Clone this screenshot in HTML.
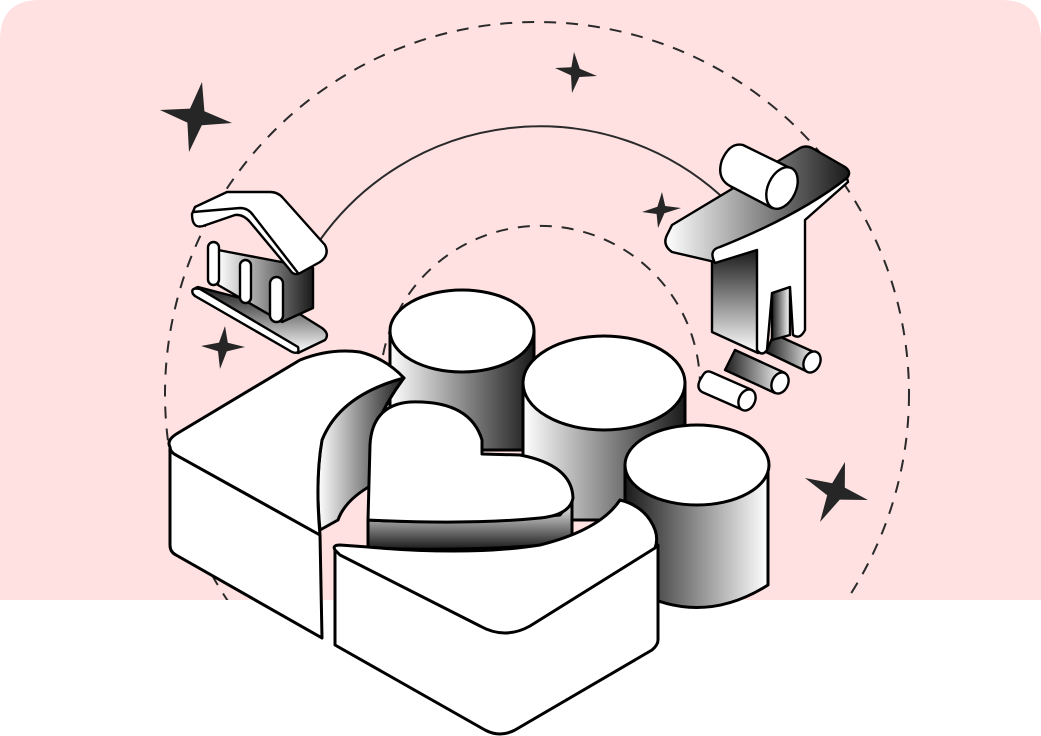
<!DOCTYPE html>
<html><head><meta charset="utf-8"><style>html,body{margin:0;padding:0;background:#fff}svg{display:block}</style></head>
<body>
<svg width="1041" height="736" viewBox="0 0 1041 736" xmlns="http://www.w3.org/2000/svg">
<defs>
<linearGradient id="wd" x1="0" x2="1" y1="0" y2="0"><stop offset="0" stop-color="#fff"/><stop offset="1" stop-color="#1a1a1a"/></linearGradient>
<linearGradient id="dw" x1="0" x2="1" y1="0" y2="0"><stop offset="0" stop-color="#1a1a1a"/><stop offset="1" stop-color="#fff"/></linearGradient>
<linearGradient id="vd" x1="0" x2="0" y1="0" y2="1"><stop offset="0" stop-color="#1a1a1a"/><stop offset="1" stop-color="#fff"/></linearGradient>
<linearGradient id="vw" x1="0" x2="0" y1="0" y2="1"><stop offset="0" stop-color="#fff"/><stop offset="1" stop-color="#1a1a1a"/></linearGradient>
<clipPath id="top"><rect x="0" y="0" width="1041" height="600"/></clipPath>
</defs>
<path d="M0,40 Q0,0 40,0 L1001,0 Q1041,0 1041,40 L1041,600 L0,600 Z" fill="#FFE1E1"/>
<g fill="none" stroke="#2a2a2a" stroke-width="2">
<circle cx="537" cy="394" r="372" stroke-dasharray="12 10" clip-path="url(#top)"/>
<path d="M383,355 A160,160 0 0 1 700,385" stroke-dasharray="12 10"/>
<path d="M320,240 A270,270 0 0 1 720,195"/>
</g>
<g fill="#262626">
<path d="M202,82 L204.4,111.2 L232,123 L201.8,125.2 L189,152 L187.4,122.6 L160,110 L190,108.6Z"/>
<path d="M574,52 L579.8,68.8 L597,76 L579.4,77 L572,93 L571,75.4 L555,68 L571.4,67.2Z"/>
<path d="M662,192 L665.2,206 L681,208 L664.4,213.2 L658,228 L656.6,214 L642,212 L657.4,206.8Z"/>
<path d="M225,326 L227.8,342.8 L245,347 L226.8,351.4 L220,369 L218,351.2 L201,346 L219,342.6Z"/>
<path d="M845,462 L844.8,487.6 L868,500 L839.8,499.6 L820,522 L827.2,495.2 L805,478 L832.2,483.2Z"/>
</g>
<g stroke="#000" stroke-width="2.4" stroke-linejoin="round">
<!-- building base -->
<path d="M198,287 L298,313 L322,328 Q330,334 325,340 L298,353 L195,296 Q189,290 198,287Z" fill="url(#vd)"/>
<path d="M195,296 L292,352 Q300,355 298,347 L200,289 Q190,287 193,294Z" fill="#fff"/>
<path d="M218,250 L313,268 L313,308 L282,322 L218,285Z" fill="url(#wd)"/>
<rect x="208" y="242" width="11" height="43" rx="5.5" fill="#fff"/>
<rect x="240" y="260" width="11" height="43" rx="5.5" fill="#fff"/>
<rect x="270" y="277" width="13" height="45" rx="6.5" fill="#fff"/>
<!-- roof -->
<path d="M195,207 L227,192 L270,192 Q278,192 283,198 L325,245 Q330,255 320,262 L302,272 Q294,277 290,270 L250,222 Q243,214 235,215 L203,226 Q192,229 192,214 Z" fill="#fff"/>
<path d="M193,212 L240,208 Q248,208 253,215 L298,273" fill="none"/>
<!-- person feet -->
<path d="M774,334 L816,353 L808,372 L766,352Z" fill="url(#dw)"/>
<ellipse cx="812" cy="362" rx="8" ry="11" transform="rotate(25 812 362)" fill="#fff"/>
<path d="M735,350 L785,373 L775,393 L725,370Z" fill="url(#dw)"/>
<ellipse cx="780" cy="383" rx="8" ry="11" transform="rotate(25 780 383)" fill="#fff"/>
<path d="M711,372 L752,390 L743,410 L702,392Q696,388 700,380 L703,375 Q706,370 711,372Z" fill="#fff"/>
<ellipse cx="747" cy="400" rx="8" ry="11" transform="rotate(25 747 400)" fill="#fff"/>
<!-- person -->
<path d="M712,258 L712,332 L758,353 L757,250Z" fill="url(#vd)"/>
<path d="M772,293 L790,287 L790,335 L772,340Z" fill="url(#dw)"/>
<path d="M672,225 L800,148 Q806,145 812,148 L845,167 Q852,172 847,178 Q800,215 720,247 Q712,252 715,262 L672,252 Q662,245 667,235 Z" fill="url(#wd)"/>
<path d="M715,263 Q708,250 720,247 Q800,215 847,178 L848,182 L805,220 L805,330 Q800,340 793,335 L790,287 L772,293 L767,350 Q762,357 757,350 L757,250 Z" fill="#fff"/>
<path d="M743,145 L790,168 L772,208 L730,186 Q716,178 722,160 Q730,142 743,145Z" fill="#fff"/>
<ellipse cx="782" cy="188" rx="14" ry="22" transform="rotate(25 782 188)" fill="#fff"/>
</g>
<g stroke="#000" stroke-width="3" stroke-linejoin="round">
<!-- cylinder 1 -->
<path d="M390,331 L390,450 L534,450 L534,331Z" fill="url(#wd)"/>
<ellipse cx="462" cy="331" rx="72" ry="41" fill="#fff"/>
<!-- cylinder 2 -->
<path d="M523,383 L523,520 L685,520 L685,383Z" fill="url(#wd)"/>
<ellipse cx="604" cy="383" rx="81" ry="47" fill="#fff"/>
<!-- cylinder 3 -->
<path d="M625,465 L625,585 Q697,630 768,585 L768,465Z" fill="url(#dw)"/>
<ellipse cx="697" cy="465" rx="72" ry="40" fill="#fff"/>
<!-- left piece -->
<path d="M404,378 Q340,395 322,440 Q315,480 320,530 L338,520 Q345,500 372,485 L372,440 Q380,410 404,378Z" fill="url(#wd)"/>
<path d="M170,447 L170,545 Q170,552 176,555 L322,638 L320,535 L176,455Z" fill="#fff"/>
<path d="M170,447 Q166,440 178,433 L300,360 Q330,348 360,352 Q385,358 404,378 Q340,395 322,440 Q315,480 320,535 L176,455 Q170,452 170,447Z" fill="#fff"/>
<!-- heart -->
<path d="M368,520 L368,548 Q470,552 572,543 L572,500 L560,515 Q470,525 368,520Z" fill="url(#vw)"/>
<path d="M368,520 L370,445 Q372,405 410,402 Q470,400 482,440 L482,454 L520,455 Q572,465 573,498 Q570,515 540,518 Q470,525 368,520Z" fill="#fff"/>
<!-- bottom piece -->
<path d="M335,550 L335,645 L485,730 Q500,738 515,730 L652,650 Q658,645 658,640 L658,545 L500,632 Z" fill="#fff"/>
<path d="M335,550 Q332,545 340,545 L368,547 Q470,556 540,545 Q600,530 620,500 Q640,505 650,520 Q660,535 655,548 L530,626 Q505,640 480,626 L340,555 Z" fill="#fff"/>
</g>
</svg>
</body></html>
